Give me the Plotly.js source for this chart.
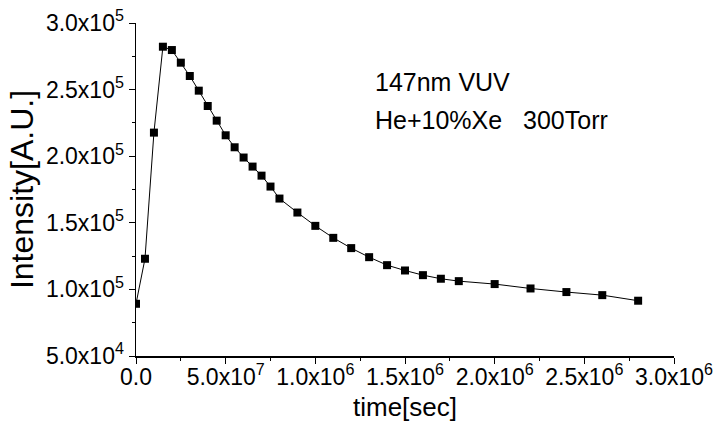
<!DOCTYPE html>
<html>
<head>
<meta charset="utf-8">
<script src="https://cdn.plot.ly/plotly-3.0.1.min.js"></script>
<style>html,body{margin:0;padding:0;background:#fff;}#chart{width:718px;height:432px;}</style>
</head>
<body>
<div id="chart"></div>
<script>
// time [sec]
const timeSec = [0, 5e-8, 1e-7, 1.5e-7, 2e-7, 2.5e-7, 3e-7, 3.5e-7, 4e-7, 4.5e-7, 5e-7, 5.5e-7, 6e-7, 6.5e-7, 7e-7, 7.5e-7, 8e-7,
  9e-7, 1.0e-6, 1.1e-6, 1.2e-6, 1.3e-6, 1.4e-6, 1.5e-6, 1.6e-6, 1.7e-6, 1.8e-6,
  2.0e-6, 2.2e-6, 2.4e-6, 2.6e-6, 2.8e-6];
// intensity [A.U.]
const intensity = [89200, 123000, 217700, 282200, 279700, 270200, 260200, 249200, 237700, 226700, 215700, 206700, 199000, 192200, 185400, 177200, 168200,
  157700, 147700, 138700, 131000, 124200, 118200, 114200, 110700, 108000, 106200,
  104000, 100700, 98000, 95700, 91500];

const xTickVals = [0, 5e-7, 1e-6, 1.5e-6, 2e-6, 2.5e-6, 3e-6];
const xTickText = ["0.0", "5.0x10<sup>7</sup>", "1.0x10<sup>6</sup>", "1.5x10<sup>6</sup>", "2.0x10<sup>6</sup>", "2.5x10<sup>6</sup>", "3.0x10<sup>6</sup>"];
const yTickVals = [5e4, 1e5, 1.5e5, 2e5, 2.5e5, 3e5];
const yTickText = ["5.0x10<sup>4</sup>", "1.0x10<sup>5</sup>", "1.5x10<sup>5</sup>", "2.0x10<sup>5</sup>", "2.5x10<sup>5</sup>", "3.0x10<sup>5</sup>"];
const labelLine1 = "147nm VUV";
const labelLine2 = "He+10%Xe&nbsp;&nbsp;&nbsp;300Torr";

const font = "Liberation Sans, Arial, sans-serif";

const trace = {
  x: timeSec, y: intensity, type: 'scatter', mode: 'lines+markers',
  line: {color: '#000', width: 1},
  marker: {symbol: 'square', size: 8, color: '#000'},
  showlegend: false, hoverinfo: 'skip'
};

const layout = {
  width: 718, height: 432,
  margin: {l: 136, r: 44, t: 23, b: 76},
  paper_bgcolor: '#fff', plot_bgcolor: '#fff',
  font: {family: font, color: '#000'},
  xaxis: {
    range: [0, 3e-6], showgrid: false, zeroline: false,
    showline: true, linecolor: '#000', linewidth: 1.5,
    tickmode: 'array', tickvals: xTickVals, ticktext: xTickText,
    ticks: 'outside', ticklen: 6, tickwidth: 1, tickcolor: '#000',
    ticklabelstandoff: -6,
    tickfont: {family: font, size: 23, color: '#000'},
    minor: {tickmode: 'linear', tick0: 0, dtick: 2.5e-7, ticks: 'outside', ticklen: 3, tickcolor: '#000', showgrid: false},
    title: {text: 'time[sec]', font: {family: font, size: 26, color: '#000'}, standoff: 8}
  },
  yaxis: {
    range: [5e4, 3e5], showgrid: false, zeroline: false,
    showline: true, linecolor: '#000', linewidth: 1.5,
    tickmode: 'array', tickvals: yTickVals, ticktext: yTickText,
    ticks: 'outside', ticklen: 6, tickwidth: 1, tickcolor: '#000',
    tickfont: {family: font, size: 23, color: '#000'},
    minor: {tickmode: 'linear', tick0: 5e4, dtick: 2.5e4, ticks: 'outside', ticklen: 3, tickcolor: '#000', showgrid: false},
    title: {text: 'Intensity[A.U.]', font: {family: font, size: 32, color: '#000'}, standoff: 2}
  },
  annotations: [
    {xref: 'paper', yref: 'paper', x: 0.4405, y: 0.823, xanchor: 'left', yanchor: 'middle',
     text: labelLine1, showarrow: false, font: {family: font, size: 25, color: '#000'}},
    {xref: 'paper', yref: 'paper', x: 0.4405, y: 0.709, xanchor: 'left', yanchor: 'middle',
     text: labelLine2, showarrow: false, font: {family: font, size: 25, color: '#000'}}
  ]
};

Plotly.newPlot('chart', [trace], layout, {staticPlot: true, displayModeBar: false});
</script>
</body>
</html>
